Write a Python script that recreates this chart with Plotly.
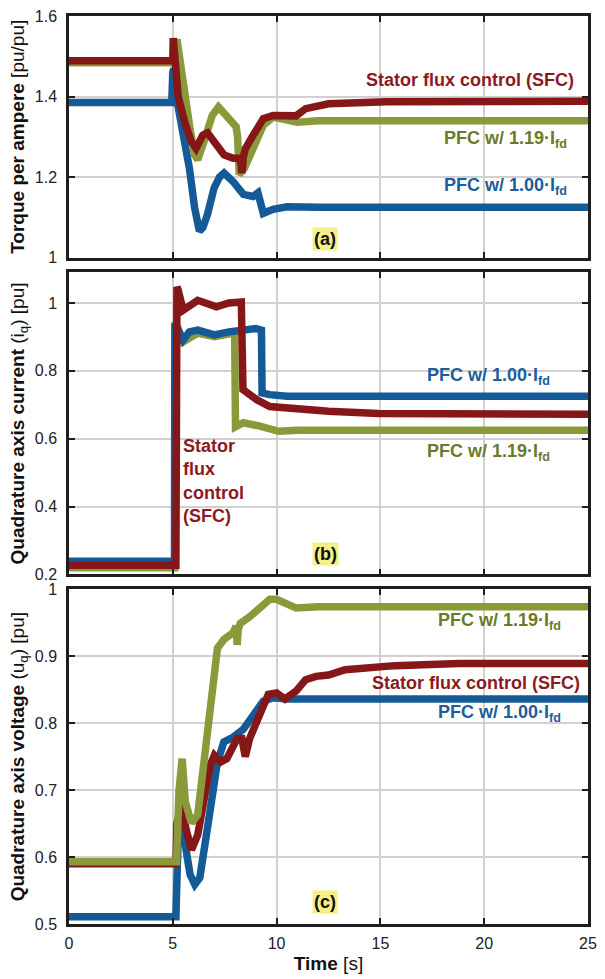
import plotly.graph_objects as go

# ---------------- data ----------------
# Panel (a): torque per ampere
a_blue_t = [0, 4.95, 5.0, 5.05, 5.2, 5.5, 5.8, 6.05, 6.28, 6.45, 6.67, 6.99, 7.25, 7.47, 7.7, 7.9, 8.4, 8.87, 9.1, 9.2, 9.36, 9.6, 9.83, 10.5, 12, 25]
a_blue_v = [1.385, 1.385, 1.46, 1.47, 1.39, 1.305, 1.222, 1.124, 1.066, 1.075, 1.107, 1.173, 1.20, 1.21, 1.20, 1.189, 1.157, 1.152, 1.161, 1.14, 1.11, 1.115, 1.12, 1.126, 1.125, 1.125]
a_red_t = [0, 5.0, 5.02, 5.1, 5.26, 5.57, 5.89, 6.12, 6.44, 6.67, 6.99, 7.47, 7.9, 8.18, 8.28, 8.33, 8.4, 8.49, 8.87, 9.36, 9.83, 10.5, 10.94, 11.4, 12.5, 15.3, 20, 25]
a_red_v = [1.489, 1.489, 1.545, 1.47, 1.40, 1.337, 1.288, 1.271, 1.304, 1.31, 1.288, 1.255, 1.247, 1.247, 1.235, 1.21, 1.25, 1.27, 1.304, 1.345, 1.353, 1.35, 1.352, 1.37, 1.382, 1.387, 1.388, 1.388]
a_olive_t = [0, 5.05, 5.2, 5.5, 5.83, 6.05, 6.2, 6.5, 6.9, 7.2, 7.6, 8.05, 8.12, 8.2, 8.45, 8.87, 9.36, 9.83, 10.5, 11, 12, 25]
a_olive_v = [1.484, 1.484, 1.542, 1.427, 1.32, 1.255, 1.243, 1.288, 1.353, 1.374, 1.353, 1.325, 1.30, 1.206, 1.222, 1.271, 1.329, 1.349, 1.341, 1.336, 1.34, 1.34]

# Panel (b): quadrature axis current
b_blue_t = [0, 5.08, 5.1, 5.3, 5.5, 5.8, 6.2, 7.0, 7.7, 9.0, 9.27, 9.3, 9.67, 10.5, 25]
b_blue_v = [0.239, 0.239, 0.94, 0.915, 0.891, 0.915, 0.92, 0.906, 0.915, 0.925, 0.92, 0.735, 0.73, 0.725, 0.725]
b_red_t = [0, 5.15, 5.2, 5.25, 5.5, 6.2, 7.1, 7.7, 8.3, 8.38, 8.6, 9.05, 9.67, 10.5, 12.5, 14.9, 20, 25]
b_red_v = [0.227, 0.227, 1.047, 1.04, 0.979, 1.008, 0.989, 1.0, 1.003, 0.745, 0.735, 0.715, 0.695, 0.69, 0.681, 0.674, 0.672, 0.672]
b_olive_t = [0, 5.1, 5.13, 5.5, 6.2, 7.0, 7.85, 7.98, 8.02, 8.4, 9.2, 10.1, 11, 25]
b_olive_v = [0.22, 0.22, 0.945, 0.886, 0.911, 0.901, 0.911, 0.905, 0.635, 0.647, 0.637, 0.622, 0.625, 0.625]

# Panel (c): quadrature axis voltage
c_blue_t = [0, 5.15, 5.3, 5.6, 5.83, 6.06, 6.3, 6.57, 6.86, 7.15, 7.46, 7.9, 8.4, 8.87, 9.36, 9.83, 10.5, 25]
c_blue_v = [0.511, 0.511, 0.676, 0.623, 0.574, 0.559, 0.569, 0.623, 0.693, 0.742, 0.772, 0.779, 0.791, 0.811, 0.833, 0.838, 0.836, 0.836]
c_red_t = [0, 5.15, 5.2, 5.4, 5.65, 5.9, 6.2, 6.5, 6.8, 7.0, 7.3, 7.6, 8.1, 8.33, 8.49, 8.7, 9.2, 9.6, 10.0, 10.4, 10.94, 11.4, 11.9, 12.5, 13.3, 15.7, 18.8, 25]
c_red_v = [0.59, 0.59, 0.65, 0.678, 0.64, 0.611, 0.633, 0.683, 0.737, 0.752, 0.742, 0.747, 0.777, 0.777, 0.75, 0.777, 0.811, 0.843, 0.845, 0.836, 0.848, 0.865, 0.87, 0.872, 0.88, 0.886, 0.889, 0.889]
c_olive_t = [0, 5.18, 5.3, 5.45, 5.6, 5.9, 6.2, 6.5, 6.8, 7.0, 7.15, 7.46, 7.9, 8.05, 8.1, 8.15, 8.25, 8.7, 9.2, 9.67, 10.0, 10.5, 10.94, 12, 25]
c_olive_v = [0.593, 0.593, 0.70, 0.747, 0.683, 0.651, 0.663, 0.742, 0.821, 0.89, 0.912, 0.925, 0.935, 0.945, 0.917, 0.94, 0.949, 0.959, 0.972, 0.985, 0.985, 0.978, 0.972, 0.974, 0.974]

x_ticks = [0, 5, 10, 15, 20, 25]
a_ticks = [1, 1.2, 1.4, 1.6]
a_ticklabels = ["1", "1.2", "1.4", "1.6"]
b_ticks = [0.2, 0.4, 0.6, 0.8, 1.0]
b_ticklabels = ["0.2", "0.4", "0.6", "0.8", "1"]
c_ticks = [0.5, 0.6, 0.7, 0.8, 0.9, 1.0]
c_ticklabels = ["0.5", "0.6", "0.7", "0.8", "0.9", "1"]

# ---------------- styles ----------------
BLUE = "#145a96"
RED = "#861719"
OLIVE = "#8a9a3b"
BLUE_T = "#1b5e9c"
RED_T = "#8b1a1e"
OLIVE_T = "#697a2b"
LW = 7.5
FONT = "Liberation Sans, Arial, Helvetica, sans-serif"

fig = go.Figure()

def add(t, v, color, xa, ya):
    fig.add_trace(go.Scatter(x=t, y=v, mode="lines", xaxis=xa, yaxis=ya,
                             line=dict(color=color, width=LW),
                             showlegend=False, hoverinfo="skip"))

# panel a: blue, olive, red
add(a_blue_t, a_blue_v, BLUE, "x", "y")
add(a_olive_t, a_olive_v, OLIVE, "x", "y")
add(a_red_t, a_red_v, RED, "x", "y")
# panel b: olive, blue, red
add(b_olive_t, b_olive_v, OLIVE, "x2", "y2")
add(b_blue_t, b_blue_v, BLUE, "x2", "y2")
add(b_red_t, b_red_v, RED, "x2", "y2")
# panel c: blue, red, olive
add(c_blue_t, c_blue_v, BLUE, "x3", "y3")
add(c_red_t, c_red_v, RED, "x3", "y3")
add(c_olive_t, c_olive_v, OLIVE, "x3", "y3")

axis_common = dict(showline=True, mirror="ticks", linecolor="#1e1e1e", linewidth=2.5,
                   ticks="inside", ticklen=6, tickwidth=1.5, tickcolor="#1e1e1e",
                   showgrid=True, gridcolor="#d3cfcf", gridwidth=1.5, zeroline=False)
yfont = dict(family="Liberation Sans, Arial, sans-serif", size=16, color="#222")
xfont = dict(family="Liberation Sans, Arial, sans-serif", size=16, color="#222")

H_TOP, H_BOT = 13, 49
PH = 979 - H_TOP - H_BOT
def dom(top_px, bot_px):
    return [1 - (bot_px - H_TOP) / PH, 1 - (top_px - H_TOP) / PH]

title_font = dict(family=FONT, size=19, color="#111")

fig.update_layout(
    width=605, height=979,
    margin=dict(l=69, r=8, t=H_TOP, b=H_BOT),
    paper_bgcolor="white", plot_bgcolor="white",
    font=dict(family=FONT),
    xaxis=dict(axis_common, domain=[0, 1], range=[0, 25], tickvals=x_ticks,
               showticklabels=False, anchor="y"),
    xaxis2=dict(axis_common, domain=[0, 1], range=[0, 25], tickvals=x_ticks,
                showticklabels=False, anchor="y2"),
    xaxis3=dict(axis_common, domain=[0, 1], range=[0, 25], tickvals=x_ticks, tickfont=xfont,
                ticklabelstandoff=3, anchor="y3",
                title=dict(text="<b>Time</b> [s]", font=title_font, standoff=6)),
    yaxis=dict(axis_common, domain=dom(13, 257), range=[1, 1.6], tickvals=a_ticks,
               ticktext=a_ticklabels, anchor="x", tickfont=yfont, ticklabelstandoff=6,
               title=dict(text="<b>Torque per ampere</b> [pu/pu]", font=title_font, standoff=6)),
    yaxis2=dict(axis_common, domain=dom(272, 577), range=[0.2, 1.09], tickvals=b_ticks,
                ticktext=b_ticklabels, anchor="x2", tickfont=yfont, ticklabelstandoff=6,
                title=dict(text="<b>Quadrature axis current</b> (i<sub>q</sub>) [pu]", font=title_font, standoff=6)),
    yaxis3=dict(axis_common, domain=dom(592, 930), range=[0.5, 1.0], tickvals=c_ticks,
                ticktext=c_ticklabels, anchor="x3", tickfont=yfont, ticklabelstandoff=6,
                title=dict(text="<b>Quadrature axis voltage</b> (u<sub>q</sub>) [pu]", font=title_font, standoff=6)),
)

def ann(text, x, y, xa, ya, color, xanchor="right", bg=None, align="left"):
    d = dict(text=text, x=x, y=y, xref=xa, yref=ya, showarrow=False, xanchor=xanchor,
             yanchor="middle", align=align, font=dict(family=FONT, size=18, color=color))
    if bg:
        d["bgcolor"] = bg
        d["borderpad"] = 1
    fig.add_annotation(**d)

YEL = "#f6ef86"
# panel a
ann("<b>Stator flux control (SFC)</b>", 24.4, 1.44, "x", "y", RED_T)
ann("<b>PFC w/ 1.19·I<sub>fd</sub></b>", 24.1, 1.293, "x", "y", OLIVE_T)
ann("<b>PFC w/ 1.00·I<sub>fd</sub></b>", 24.1, 1.177, "x", "y", BLUE_T)
ann("<b>(a)</b>", 12.35, 1.047, "x", "y", "#111", xanchor="center", bg=YEL)
# panel b
ann("<b>PFC w/ 1.00·I<sub>fd</sub></b>", 23.25, 0.783, "x2", "y2", BLUE_T)
ann("<b>PFC w/ 1.19·I<sub>fd</sub></b>", 23.25, 0.56, "x2", "y2", OLIVE_T)
ann("<b>Stator<br>flux<br>control<br>(SFC)</b>", 5.4, 0.475, "x2", "y2", RED_T, xanchor="left")
ann("<b>(b)</b>", 12.35, 0.261, "x2", "y2", "#111", xanchor="center", bg=YEL)
# panel c
ann("<b>PFC w/ 1.19·I<sub>fd</sub></b>", 23.8, 0.952, "x3", "y3", OLIVE_T)
ann("<b>Stator flux control (SFC)</b>", 24.7, 0.86, "x3", "y3", RED_T)
ann("<b>PFC w/ 1.00·I<sub>fd</sub></b>", 23.8, 0.814, "x3", "y3", BLUE_T)
ann("<b>(c)</b>", 12.35, 0.533, "x3", "y3", "#111", xanchor="center", bg=YEL)

fig.write_html("out.html")
